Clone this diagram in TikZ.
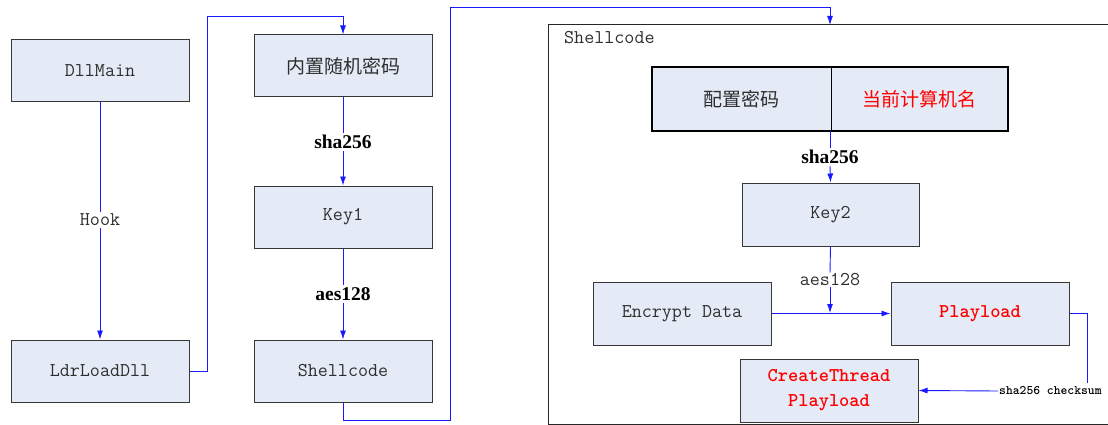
\documentclass[tikz,border=0pt]{standalone}
\usepackage{fontspec}
\newfontfamily\cjk{Noto Sans CJK SC}
\newfontfamily\serifbold{Liberation Serif}
\usetikzlibrary{arrows.meta}

\definecolor{boxfill}{RGB}{228,235,246}
\definecolor{boxedge}{RGB}{55,55,55}
\definecolor{flow}{RGB}{25,25,255}
\definecolor{hot}{RGB}{255,0,0}

\tikzset{
  x=1pt, y=-1pt,
  txt/.style={font=\fontsize{19.5}{24}\selectfont\ttfamily, text=black!82},
  block/.style={txt, draw=boxedge, fill=boxfill, line width=1pt,
    minimum width=178pt, minimum height=62pt, inner sep=0pt},
  cjkblock/.style={block, font=\fontsize{19}{24}\selectfont\cjk},
  hotblock/.style={block, text=hot, align=center,
    font=\fontsize{19.5}{25}\selectfont\ttfamily\bfseries},
  half/.style={fill=boxfill, minimum height=64pt, inner sep=0pt,
    font=\fontsize{19}{24}\selectfont\cjk, text=black!82},
  boldlabel/.style={fill=white, inner sep=2pt,
    font=\fontsize{19.5}{24}\selectfont\serifbold\bfseries},
  plainlabel/.style={txt, fill=white, inner sep=2pt},
  link/.style={draw=flow, line width=0.9pt},
  linkarrow/.style={link, -{Latex[length=9pt,width=6pt]}},
}

\begin{document}
\begin{tikzpicture}
\useasboundingbox (0,0) rectangle (1108,425);

% left column
\node[block] (dllmain) at (100,71) {DllMain};
\node[block] (ldr) at (100,371) {LdrLoadDll};
\node[plainlabel] (hook) at (100,220) {Hook};
\draw[link] (dllmain.south) -- (hook.north);
\draw[linkarrow] (hook.south) -- (ldr.north);

% middle column
\node[cjkblock] (pwd) at (343,66) {内置随机密码};
\node[block] (key1) at (343,217) {Key1};
\node[block] (sc) at (343,371) {Shellcode};
\node[boldlabel] (shaA) at (343,142) {sha256};
\node[boldlabel] (aesA) at (343,294) {aes128};
\draw[link] (pwd.south) -- (shaA.north);
\draw[linkarrow] (shaA.south) -- (key1.north);
\draw[link] (key1.south) -- (aesA.north);
\draw[linkarrow] (aesA.south) -- (sc.north);

% LdrLoadDll jumps into the embedded password step
\coordinate (j1) at (207,371);
\coordinate (j2) at (207,16);
\draw[linkarrow] (ldr.east) -- (j1) -- (j2) -| (pwd.north);

% shellcode container
\draw[line width=1pt, draw=black!85] (1130,25) -- (548,25) -- (548,424) -- (1130,424);
\node[txt, anchor=west, inner sep=0pt] (sctitle) at (564,38) {Shellcode};
\coordinate (ctop) at (830,25);
\coordinate (s1) at (343,420);
\coordinate (s2) at (450,420);
\coordinate (s3) at (450,7);
\draw[linkarrow] (sc.south) -- (s1) -- (s2) -- (s3) -| (ctop);

% split key material box
\node[half, minimum width=179pt] (cfg) at (741.5,99) {配置密码};
\node[half, minimum width=177pt, text=hot] (host) at (919.5,99) {当前计算机名};
\draw[line width=2pt, black] (cfg.north west) rectangle (host.south east);
\draw[line width=1pt, black] (cfg.north east) -- (cfg.south east);
\coordinate (split) at (830,131);

\node[block, minimum width=177pt, minimum height=63pt] (key2) at (830.5,214.5) {Key2};
\node[boldlabel] (shaB) at (830,157) {sha256};
\draw[link] (split) -- (shaB.north);
\draw[linkarrow] (shaB.south) -- (key2.south |- key2.north);

\node[block, minimum height=63pt] (enc) at (682,313.5) {Encrypt Data};
\node[hotblock, minimum height=63pt] (play) at (980,313.5) {Playload};
\node[hotblock, minimum height=63pt] (ct) at (829,390.5) {CreateThread\\Playload};
\draw[linkarrow] (enc.east) -- (play.west);

\node[plainlabel, inner sep=1pt] (aesB) at (830,280) {aes128};
\coordinate (merge) at (830,313);
\draw[link] (key2.south) -- (aesB.north);
\draw[linkarrow] (aesB.south) -- (merge);

% checksum before the thread is created
\node[anchor=west, inner sep=1pt, font=\fontsize{13}{15}\selectfont\ttfamily\bfseries]
  (chk) at (998,391) {sha256 checksum};
\coordinate (c1) at (1087,383);
\draw[link] (play.east) -| (c1);
\draw[linkarrow] (chk.west) -- (ct.east);
\end{tikzpicture}
\end{document}
